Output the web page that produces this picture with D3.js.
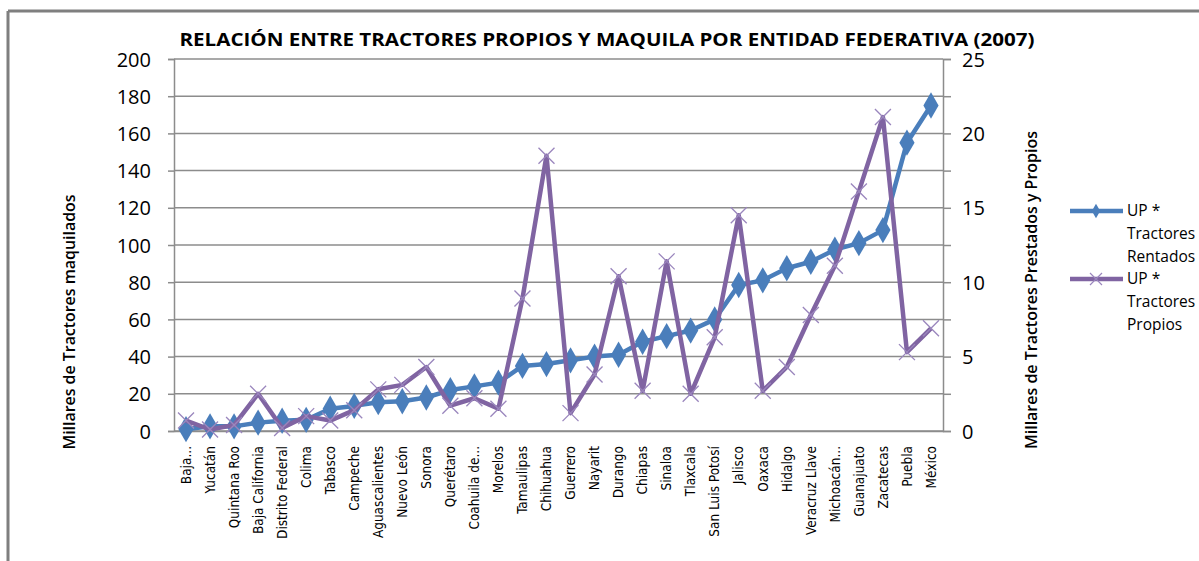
<!DOCTYPE html>
<html><head><meta charset="utf-8">
<script src="https://cdn.jsdelivr.net/npm/d3@7"></script>
<style>
html,body{margin:0;padding:0;background:#fff;}
svg{display:block;}
text{font-family:"Liberation Sans Narrow","Open Sans","DejaVu Sans",sans-serif;}
</style></head>
<body>
<svg id="c" width="1199" height="561"></svg>
<script>
const categories = ["Baja...","Yucatán","Quintana Roo","Baja California","Distrito Federal","Colima","Tabasco","Campeche","Aguascalientes","Nuevo León","Sonora","Querétaro","Coahuila de...","Morelos","Tamaulipas","Chihuahua","Guerrero","Nayarit","Durango","Chiapas","Sinaloa","Tlaxcala","San Luis Potosí","Jalisco","Oaxaca","Hidalgo","Veracruz Llave","Michoacán...","Guanajuato","Zacatecas","Puebla","México"];
const rentados = [1, 2.5, 2.5, 4.5, 5.5, 6, 12, 13.5, 15.5, 16, 18, 22, 24, 26, 35, 36, 38, 40, 41, 48, 51, 54, 60, 78.5, 81, 87.5, 91, 97.5, 101, 108, 155, 175];
const propios = [0.7, 0.1, 0.4, 2.5, 0.2, 1.0, 0.7, 1.4, 2.8, 3.1, 4.3, 1.7, 2.2, 1.5, 8.9, 18.5, 1.2, 3.8, 10.4, 2.7, 11.4, 2.5, 6.3, 14.5, 2.7, 4.3, 7.8, 11.1, 16.1, 21.1, 5.3, 6.9];
const leftTicks = [0,20,40,60,80,100,120,140,160,180,200];
const rightTicks = [0,5,10,15,20,25];
const title = "RELACIÓN ENTRE TRACTORES PROPIOS Y MAQUILA POR ENTIDAD FEDERATIVA (2007)";
const leftTitle = "Millares de Tractores maquilados";
const rightTitle = "Millares de Tractores Prestados y Propios";
const legendItems = [["UP *","Tractores","Rentados"],["UP *","Tractores","Propios"]];

const svg = d3.select("#c");
const L=174, R=943, T=59, B=431;
const BLUE="#4A7EBB", PURPLE="#8064A2", GRID="#8c8c8c";

// outer frame
svg.append("line").attr("x1",8).attr("x2",1199).attr("y1",11).attr("y2",11).attr("stroke","#7f7f7f").attr("stroke-width",3);
svg.append("line").attr("x1",8).attr("x2",8).attr("y1",11).attr("y2",561).attr("stroke","#7f7f7f").attr("stroke-width",3);

const x = d3.scaleBand().domain(categories).range([L,R]);
const yL = d3.scaleLinear().domain([0,200]).range([B,T]);
const yR = d3.scaleLinear().domain([0,25]).range([B,T]);

// gridlines
svg.append("g").selectAll("line").data(leftTicks).join("line")
  .attr("x1",L).attr("x2",R).attr("y1",d=>yL(d)).attr("y2",d=>yL(d))
  .attr("stroke",GRID).attr("stroke-width",1.5);

// left axis
const ga = svg.append("g").attr("transform",`translate(${L},0)`)
  .call(d3.axisLeft(yL).tickValues(leftTicks).tickSize(6).tickPadding(17));
ga.select(".domain").attr("stroke",GRID).attr("stroke-width",1.5);
ga.selectAll(".tick line").attr("stroke",GRID).attr("stroke-width",1.5);
ga.selectAll("text").attr("font-size",20).attr("fill","#000").style("font-family","'Open Sans','DejaVu Sans',sans-serif").attr("dy","0.35em");

// right axis
const gr = svg.append("g").attr("transform",`translate(${R},0)`)
  .call(d3.axisRight(yL).tickValues(leftTicks).tickSize(8).tickFormat(""));
gr.select(".domain").attr("stroke",GRID).attr("stroke-width",1.5);
gr.selectAll(".tick line").attr("stroke",GRID).attr("stroke-width",1.5);
const gr2 = svg.append("g").attr("transform",`translate(${R},0)`)
  .call(d3.axisRight(yR).tickValues(rightTicks).tickSize(0).tickPadding(19));
gr2.select(".domain").remove();
gr2.selectAll("text").attr("font-size",20).attr("fill","#000").style("font-family","'Open Sans','DejaVu Sans',sans-serif").attr("dy","0.35em");

// bottom axis
const gb = svg.append("g").attr("transform",`translate(0,${B})`)
  .call(d3.axisBottom(x).tickSize(0).tickPadding(0));
gb.select(".domain").attr("stroke",GRID).attr("stroke-width",1.5);
gb.selectAll("text").attr("font-size",13.5).attr("fill","#000")
  .attr("transform","rotate(-90)").attr("text-anchor","end")
  .attr("x",-15).attr("y",0).attr("dy","0.35em")
  .style("font-family","'DejaVu Sans Condensed','Liberation Sans Narrow',sans-serif");

// title
svg.append("text").attr("x",607).attr("y",46).attr("text-anchor","middle")
  .attr("font-size",18).attr("font-weight","bold").attr("fill","#000")
  .attr("textLength",855).attr("lengthAdjust","spacingAndGlyphs").text(title);

// axis titles
svg.append("text").attr("transform","translate(75,322) rotate(-90)").attr("text-anchor","middle")
  .attr("font-size",15.5).attr("font-weight","600").attr("fill","#000")
  .style("font-family","'Open Sans','DejaVu Sans',sans-serif")
  .attr("textLength",255).attr("lengthAdjust","spacingAndGlyphs").text(leftTitle);
svg.append("text").attr("transform","translate(1037,290) rotate(-90)").attr("text-anchor","middle")
  .attr("font-size",15.5).attr("font-weight","600").attr("fill","#000")
  .style("font-family","'Open Sans','DejaVu Sans',sans-serif")
  .attr("textLength",318).attr("lengthAdjust","spacingAndGlyphs").text(rightTitle);

const cx = d => x(d)+x.bandwidth()/2;

// blue line
svg.append("path").datum(rentados.map((v,i)=>[categories[i],v]))
  .attr("fill","none").attr("stroke",BLUE).attr("stroke-width",4.5).attr("stroke-linejoin","round")
  .attr("d",d3.line().x(d=>cx(d[0])).y(d=>yL(d[1])));
svg.append("g").selectAll("path").data(rentados).join("path")
  .attr("transform",(d,i)=>`translate(${cx(categories[i])},${yL(d)})`)
  .attr("d",d3.symbol(d3.symbolDiamond,200)())
  .attr("fill",BLUE);

// purple line
svg.append("path").datum(propios.map((v,i)=>[categories[i],v]))
  .attr("fill","none").attr("stroke",PURPLE).attr("stroke-width",4.5).attr("stroke-linejoin","round")
  .attr("d",d3.line().x(d=>cx(d[0])).y(d=>yR(d[1])));
svg.append("g").selectAll("path").data(propios).join("path")
  .attr("transform",(d,i)=>`translate(${cx(categories[i])},${yR(d)})`)
  .attr("d","M-8,-8L8,8M-8,8L8,-8")
  .attr("stroke","#9a86bd").attr("stroke-width",1.3).attr("fill","none");

// legend
const lg = svg.append("g");
const ly = [211,279], colors=[BLUE,PURPLE];
legendItems.forEach((lines,k)=>{
  lg.append("line").attr("x1",1070).attr("x2",1123).attr("y1",ly[k]).attr("y2",ly[k])
    .attr("stroke",colors[k]).attr("stroke-width",4.5);
  if(k===0){
    lg.append("path").attr("transform",`translate(1096,${ly[k]})`).attr("d",d3.symbol(d3.symbolDiamond,60)()).attr("fill",BLUE);
  } else {
    lg.append("path").attr("transform",`translate(1096,${ly[k]})`).attr("d","M-6,-6L6,6M-6,6L6,-6").attr("stroke","#9a86bd").attr("stroke-width",1.2);
  }
  lines.forEach((t,j)=>{
    lg.append("text").attr("x",1127).attr("y",ly[k]+j*23).attr("dy","0.35em")
      .attr("font-size",15.5).attr("fill","#000").style("font-family","'Open Sans','DejaVu Sans',sans-serif").text(t);
  });
});
</script>
</body></html>
